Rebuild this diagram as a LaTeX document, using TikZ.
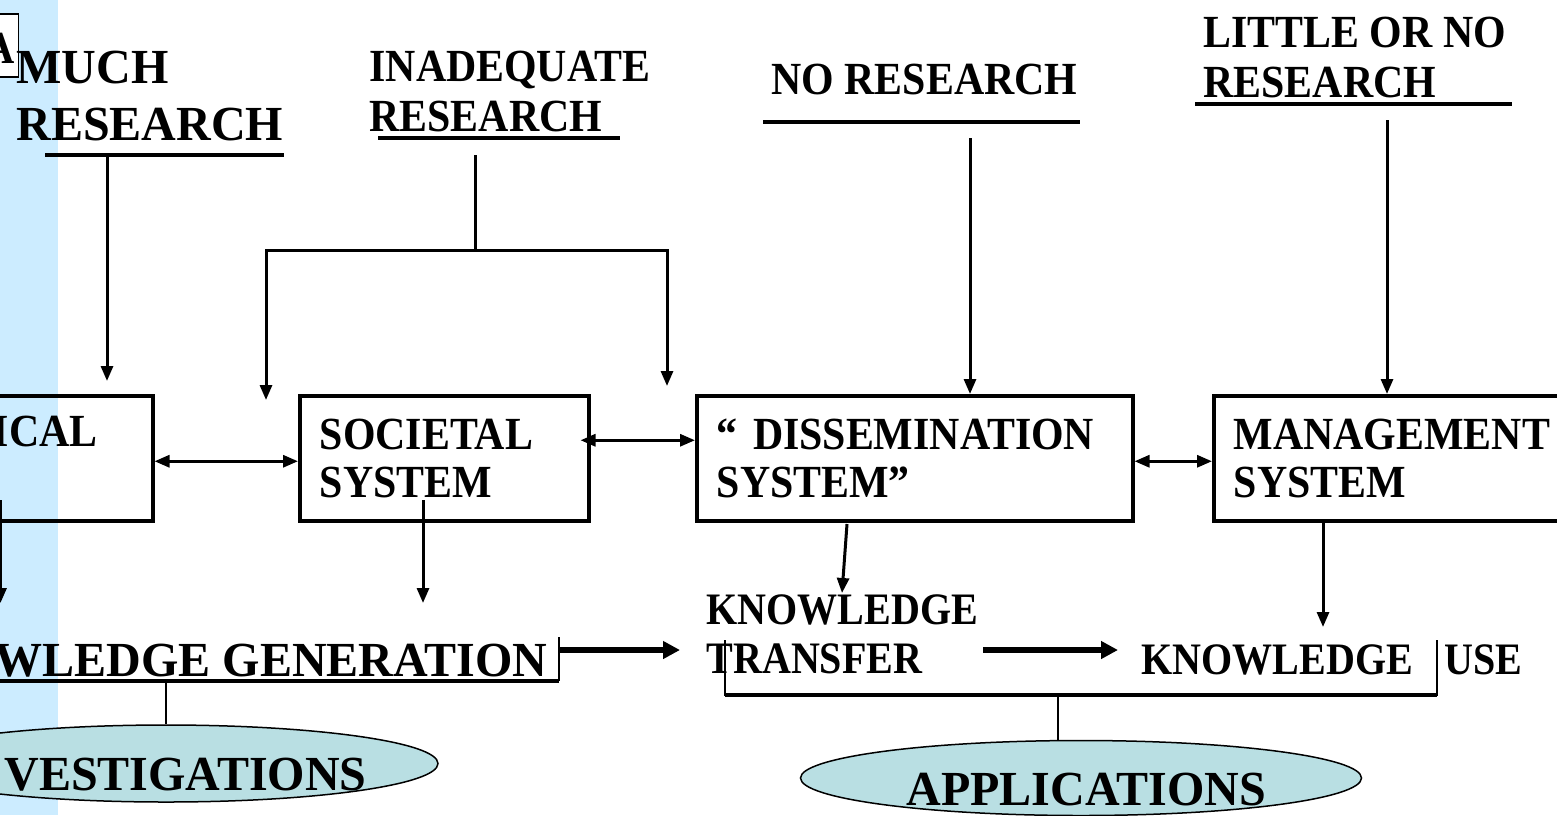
\documentclass[tikz,border=0pt]{standalone}
\usepackage{fontspec}
\setmainfont{Liberation Serif}
\newfontfamily\labelfamily[FakeStretch=0.91]{Liberation Serif}
\newfontfamily\stagefamily[FakeStretch=0.89]{Liberation Serif}
\newfontfamily\bigfamily[FakeStretch=0.98]{Liberation Serif}
\usetikzlibrary{arrows.meta, positioning, shapes.geometric}
\definecolor{stripblue}{RGB}{204,236,255}
\definecolor{ovalteal}{RGB}{185,223,227}
\tikzstyle{flowchart}=[x=1pt, y=-1pt, line width=3pt, >={Triangle[length=15pt,width=12pt]}]
\tikzstyle{heading}=[anchor=north west, inner sep=0pt, align=left, font=\labelfamily\bfseries\fontsize{46}{50}\selectfont]
\tikzstyle{bigheading}=[heading, font=\bigfamily\bfseries\fontsize{49}{57}\selectfont]
\tikzstyle{sysbox}=[draw, line width=3.5pt, anchor=north west, inner xsep=20pt, inner ysep=0pt, minimum height=125pt, align=left, font=\labelfamily\bfseries\fontsize{46}{48}\selectfont]
\tikzstyle{stage}=[anchor=north west, inner sep=0pt, align=left, font=\stagefamily\bfseries\fontsize{45}{49}\selectfont]
\tikzstyle{bigword}=[anchor=north west, inner sep=0pt, font=\bigfamily\bfseries\fontsize{49}{55}\selectfont]
\tikzstyle{oval}=[ellipse, draw, line width=1.5pt, fill=ovalteal, inner sep=0pt]
\tikzstyle{underbar}=[line width=4pt]
\tikzstyle{stem}=[line width=1.5pt]
\tikzstyle{bigarrow}=[line width=5.5pt, -{Triangle[length=17pt,width=17pt]}]

\begin{document}
\begin{tikzpicture}[flowchart]
  \useasboundingbox (0,0) rectangle (1557,815);
  \clip (0,0) rectangle (1557,815);
  \fill[stripblue] (0,0) rectangle (58,815);
  \node[draw, line width=1.5pt, fill=white, anchor=north east, minimum width=80pt, minimum height=63pt] (tab) at (19,13) {};
  \node[anchor=base east, inner sep=0pt, font=\labelfamily\bfseries\fontsize{46}{46}\selectfont] (tabletter) at (16,63) {A};

  % research labels on top
  \node[bigheading] (much) at (15,50) {MUCH\\RESEARCH};
  \node[heading] (inadequate) at (368,50) {INADEQUATE\\RESEARCH};
  \node[heading] (nores) at (770,63) {NO RESEARCH};
  \node[heading] (little) at (1202,16) {LITTLE OR NO\\RESEARCH};
  \draw[underbar] (45,155) -- (284,155);
  \draw[underbar] (378,138) -- (620,138);
  \draw[underbar] (763,122) -- (1080,122);
  \draw[underbar] (1195,104) -- (1512,104);

  % systems
  \node[sysbox, text width=311pt] (techbox) at (-200,394) {};
  \node[sysbox, text width=249pt, right=143.5pt of techbox] (socbox) {SOCIETAL\\SYSTEM};
  \node[sysbox, text width=396pt, right=104.5pt of socbox] (disbox) {“ DISSEMINATION\\SYSTEM”};
  \node[sysbox, text width=360pt, right=77.5pt of disbox] (mgmtbox) {MANAGEMENT\\SYSTEM};
  \node[heading, anchor=north east] (techtext) at (99,415) {ICAL};

  % arrows from research labels
  \coordinate (muchtop) at (107,155);
  \coordinate (muchfoot) at (107,381);
  \draw[->] (muchtop) -- (muchfoot);
  \coordinate (inadtop) at (475,155);
  \coordinate (forkL) at (266,250);
  \coordinate (forkR) at (667,250);
  \coordinate (leftfoot) at (266,400);
  \coordinate (rightfoot) at (667,386);
  \draw (inadtop) -- (inadtop |- forkL);
  \draw[<->] (leftfoot) -- (forkL) -- (forkR) -- (rightfoot);
  \coordinate (notop) at (970,138);
  \draw[->] (notop) -- (notop |- disbox.north);
  \coordinate (littletop) at (1387,120);
  \draw[->] (littletop) -- (littletop |- mgmtbox.north);

  % links between systems
  \draw[<->] ([yshift=-3pt]techbox.east) -- ([yshift=-3pt]socbox.west);
  \draw[<->] ([xshift=-10pt,yshift=18pt]socbox.east) -- ([yshift=18pt]disbox.west);
  \draw[<->] ([yshift=-3pt]disbox.east) -- ([yshift=-3pt]mgmtbox.west);

  % knowledge chain
  \node[bigword, anchor=north east] (gentext) at (549,643) {WLEDGE GENERATION};
  \node[stage] (transfer) at (705,593) {KNOWLEDGE\\TRANSFER};
  \node[stage] (usetext) at (1140,643) {KNOWLEDGE\hspace{0.7em}USE};
  \coordinate (techfoot) at (0.5,603);
  \coordinate (socfoot) at (423,603);
  \coordinate (disfoot) at (842,593);
  \coordinate (mgmtfoot) at (1323,627);
  \draw[->] (techfoot |- 0,500) -- (techfoot);
  \draw[->] (socfoot |- 0,500) -- (socfoot);
  \draw[->] (847,524) -- (disfoot);
  \draw[->] (mgmtfoot |- mgmtbox.south) -- (mgmtfoot);

  \coordinate (genL) at (0,681);
  \coordinate (genR) at (559,681);
  \draw[underbar] (genL) -- (genR);
  \draw[line width=2.5pt] (genR) -- ++(0,-44);
  \coordinate (genout) at (559,650);
  \coordinate (transin) at (680,650);
  \draw[bigarrow] (genout) -- (transin);
  \coordinate (transout) at (983,650);
  \coordinate (usein) at (1118,650);
  \draw[bigarrow] (transout) -- (usein);
  \coordinate (useL) at (725,695);
  \coordinate (useR) at (1437,695);
  \draw[line width=2.5pt] ([yshift=55pt]useL) -- (useL) -- (useR) -- ([yshift=55pt]useR);
  \draw[underbar] (useL) -- (useR);

  % ovals
  \node[oval, minimum width=544pt, minimum height=77pt] (invoval) at (166,763.5) {};
  \node[bigword] (invtext) at (3,757) {VESTIGATIONS};
  \draw[stem] (genL -| invoval.north) -- (invoval.north);
  \node[oval, minimum width=561pt, minimum height=75pt] (appoval) at (1081,778) {};
  \node[bigword] (apptext) at (905,772) {APPLICATIONS};
  \coordinate (appstem) at (1058,695);
  \draw[stem] (appstem) -- (appstem |- appoval.north);
\end{tikzpicture}
\end{document}
